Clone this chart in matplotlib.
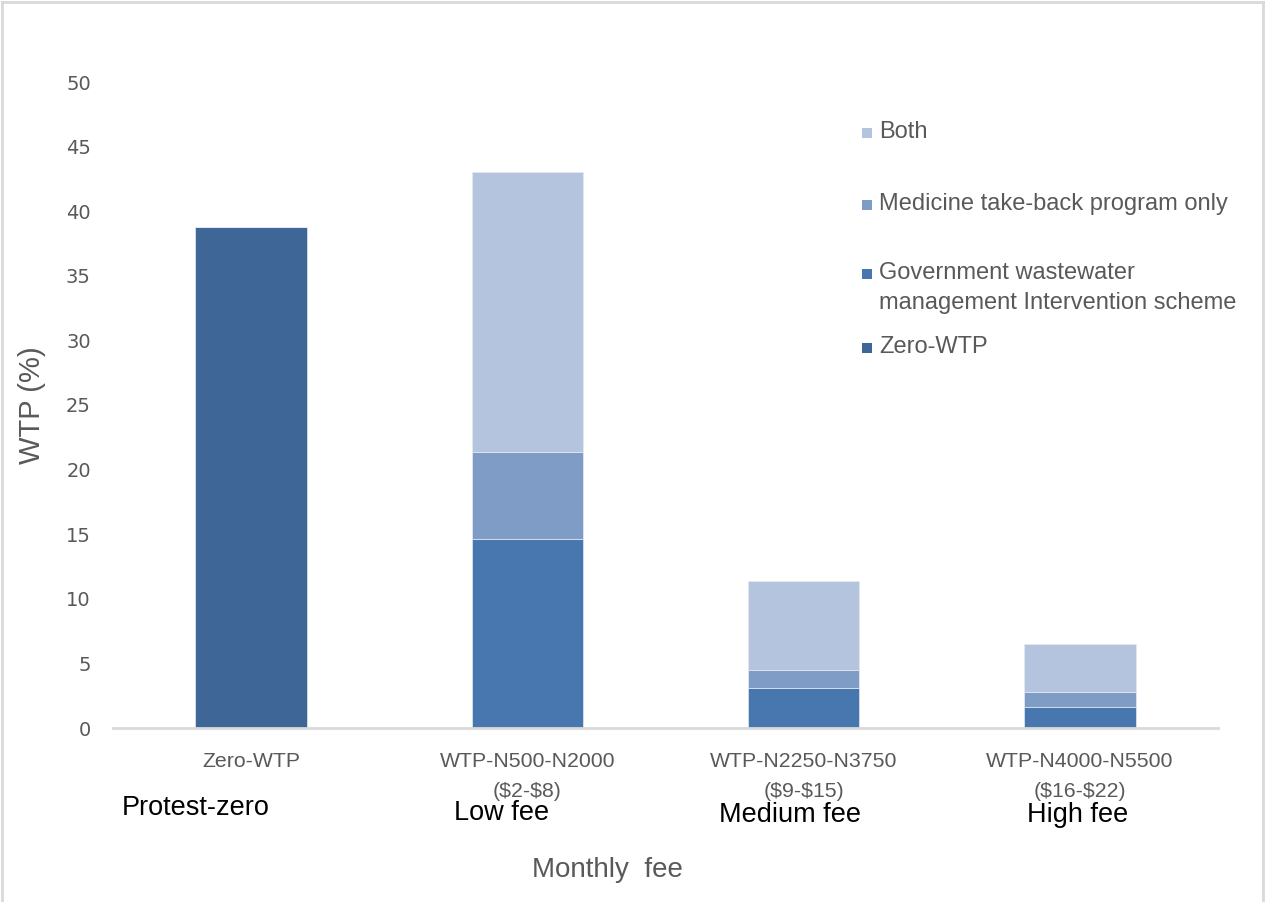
import matplotlib

matplotlib.use("Agg")
import matplotlib.pyplot as plt
from matplotlib.lines import Line2D
from matplotlib.patches import Rectangle
import numpy as np

# WTP shares (%) by monthly fee band, stacked by preferred scheme
categories = [
    "Zero-WTP",
    "WTP-N500-N2000\n(\\$2-\\$8)",
    "WTP-N2250-N3750\n(\\$9-\\$15)",
    "WTP-N4000-N5500\n(\\$16-\\$22)",
]
fee_groups = ["Protest-zero", "Low fee", "Medium fee", "High fee"]
zero_wtp = [38.8, 0.0, 0.0, 0.0]
government = [0.0, 14.6, 3.1, 1.6]
medicine = [0.0, 6.8, 1.4, 1.2]
both = [0.0, 21.6, 6.9, 3.7]
series_names = [
    "Zero-WTP",
    "Government wastewater\nmanagement Intervention scheme",
    "Medicine take-back program only",
    "Both",
]
series_colors = ["#3E6696", "#4877B0", "#7F9CC7", "#B4C4DE"]

GRAY = "#595959"
W, H = 1265, 902

fig = plt.figure(figsize=(W / 100, H / 100), dpi=100)
ax = fig.add_axes([113 / W, 1 - 728 / H, (1218 - 113) / W, (728 - 82) / H])

x = np.arange(len(categories))
bottom = np.zeros(len(categories))
for vals, color in zip([zero_wtp, government, medicine, both], series_colors):
    vals = np.asarray(vals)
    ax.bar(x, vals, width=0.404, bottom=bottom, color=color,
           edgecolor="#E4EAF3", linewidth=0.5, zorder=2)
    bottom += vals

ax.set_xlim(-0.5, len(categories) - 0.5)
ax.set_ylim(0, 50)
ax.set_yticks(np.arange(0, 51, 5))
ax.tick_params(axis="y", length=0, pad=16, labelsize=14, labelcolor=GRAY)
ax.set_xticks(x)
ax.set_xticklabels(categories, family="Liberation Sans", fontsize=15.3,
                   color=GRAY, linespacing=1.75)
ax.tick_params(axis="x", length=0, pad=17)
for side in ("top", "right", "left"):
    ax.spines[side].set_visible(False)
ax.spines["bottom"].set_color("#D9D9D9")
ax.spines["bottom"].set_linewidth(2)

ax.set_ylabel("WTP (%)", fontsize=21, color=GRAY, labelpad=14,
              family="Liberation Sans")

# fee-band captions under the category labels
fee_pos = [(196, 808), (502, 813), (790, 815), (1078, 815)]
for name, (px, py) in zip(fee_groups, fee_pos):
    fig.text(px / W, 1 - py / H, name, ha="center", va="center",
             fontsize=19.5, color="black", family="Liberation Sans")

fig.text(607 / W, 1 - 870 / H, "Monthly  fee", ha="center", va="center",
         fontsize=20, color=GRAY, family="Liberation Sans")

# legend, top entry = top of the stack
legend_rows = [(3, 133), (2, 205), (1, 274), (0, 348)]
for idx, py in legend_rows:
    fig.patches.append(Rectangle((862 / W, 1 - (py + 5) / H), 10 / W, 10 / H,
                                 transform=fig.transFigure,
                                 facecolor=series_colors[idx], edgecolor="none"))
    fig.text(879 / W, 1 - (py - 12) / H, series_names[idx], ha="left", va="top",
             fontsize=17, color=GRAY, family="Liberation Sans",
             linespacing=1.45)

# thin frame around the chart area
frame = dict(color="#D9D9D9", linewidth=2, transform=fig.transFigure)
fig.lines.append(Line2D([2 / W, 2 / W], [0, 1 - 2 / H], **frame))
fig.lines.append(Line2D([2 / W, 1263 / W], [1 - 2 / H, 1 - 2 / H], **frame))
fig.lines.append(Line2D([1263 / W, 1263 / W], [0, 1 - 2 / H], **frame))

fig.savefig("out.png", dpi=100)
